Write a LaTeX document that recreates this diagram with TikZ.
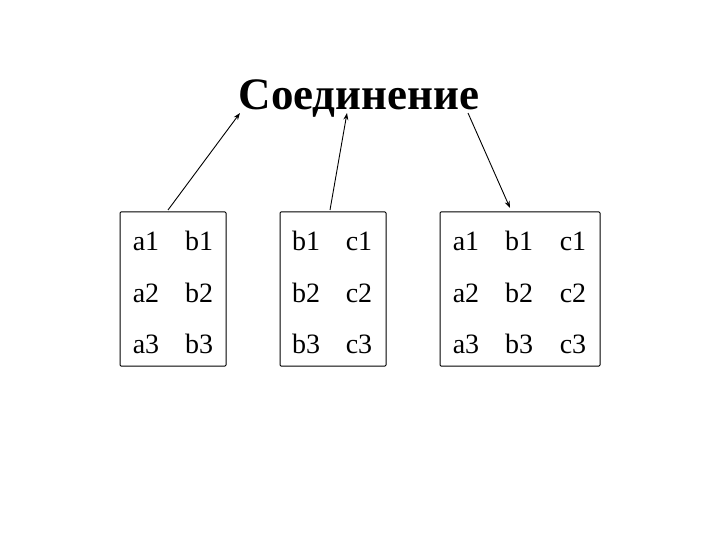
\documentclass[tikz,border=0pt]{standalone}
\usepackage{fontspec}
\setmainfont{Liberation Serif}
\usetikzlibrary{arrows.meta}
\begin{document}
\begin{tikzpicture}[x=1pt,y=-1pt,
  cell/.style={font=\fontsize{28}{30}\selectfont,anchor=base,inner sep=0pt},
  tbox/.style={draw,line width=1pt,rounded corners=1pt},
  arr/.style={line width=0.9pt,-{Stealth[length=7pt,width=5pt]}}]
\useasboundingbox (0,0) rectangle (720,540);
\node[font=\fontsize{45}{47}\selectfont\bfseries,anchor=base,inner sep=0pt] (t) at (359,110) {Соединение};
\draw[tbox] (120,212) rectangle (226,366);
\draw[tbox] (280,212) rectangle (386,366);
\draw[tbox] (440,212) rectangle (600,366);
\foreach \r/\y in {1/250,2/302,3/353}{
  \node[cell] (p\r a) at (146,\y) {a\r};
  \node[cell] (p\r b) at (199,\y) {b\r};
  \node[cell] (q\r b) at (306,\y) {b\r};
  \node[cell] (q\r c) at (359,\y) {c\r};
  \node[cell] (s\r a) at (466,\y) {a\r};
  \node[cell] (s\r b) at (519,\y) {b\r};
  \node[cell] (s\r c) at (573,\y) {c\r};
}
\coordinate (s1) at (168,210); \coordinate (e1) at (240,113);
\coordinate (s2) at (330,210); \coordinate (e2) at (347,113);
\coordinate (s3) at (468,113); \coordinate (e3) at (510,208);
\draw[arr] (s1) -- (e1);
\draw[arr] (s2) -- (e2);
\draw[arr] (s3) -- (e3);
\end{tikzpicture}
\end{document}
